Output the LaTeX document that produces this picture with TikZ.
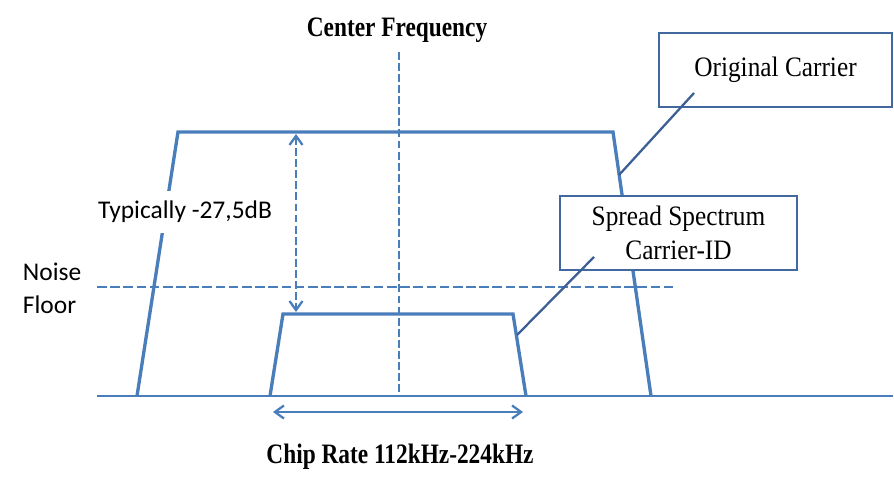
\documentclass[tikz,border=0pt]{standalone}
\usepackage{fontspec}
\setmainfont{Liberation Serif}
\newfontfamily\capfont[FakeStretch=0.9]{Liberation Serif}
\newfontfamily\headfont[FakeStretch=0.83]{Liberation Serif}
\newfontfamily\calfont{Carlito}
\usetikzlibrary{arrows.meta,calc,positioning}
\definecolor{specc}{RGB}{74,126,187}
\definecolor{boxc}{RGB}{65,105,160}
\definecolor{leadc}{RGB}{60,95,150}
\tikzset{
  spec/.style={specc,line width=1.9pt,line join=miter},
  axis/.style={specc,line width=1.3pt},
  cfline/.style={specc,line width=1.6pt,dash pattern=on 4.5pt off 1.8pt},
  nfline/.style={specc,line width=1.4pt,dash pattern=on 5.5pt off 2pt},
  barbs/.style={{Straight Barb[length=1.8mm,width=2.6mm]}-{Straight Barb[length=1.8mm,width=2.6mm]}},
  chiparr/.style={barbs,specc,line width=1.3pt},
  gaparr/.style={barbs,specc,line width=1.3pt,dash pattern=on 4.5pt off 1.8pt},
  callbox/.style={draw=boxc,fill=white,line width=1.2pt,font=\capfont\fontsize{16}{19.3}\selectfont,align=center,inner sep=0pt,minimum height=1.48cm},
  lead/.style={leadc,line width=1.3pt},
  head/.style={font=\headfont\bfseries\fontsize{16}{19}\selectfont,text=black},
  cal/.style={font=\calfont\fontsize{14.5}{18.8}\selectfont,fill=white,inner xsep=2pt,inner ysep=6pt},
}

\begin{document}
\begin{tikzpicture}[x=2cm,y=2cm]
\useasboundingbox (0,0) rectangle (8.94,4.76);
% ---- corners of the two spectra ----
\coordinate (oc-bl) at (1.37,0.80);
\coordinate (oc-tl) at (1.78,3.44);
\coordinate (oc-tr) at (6.13,3.44);
\coordinate (oc-br) at (6.51,0.80);
\coordinate (ss-bl) at (2.70,0.80);
\coordinate (ss-tl) at (2.83,1.62);
\coordinate (ss-tr) at (5.13,1.62);
\coordinate (ss-br) at (5.26,0.80);
\coordinate (ax-w) at (0.97,0.80);
\coordinate (ax-e) at (8.93,0.80);
\coordinate (cf-top) at (3.99,4.24);
\coordinate (nf-w) at (0.97,1.89);
\coordinate (nf-e) at (6.75,1.89);

% ---- axis, centre and noise floor ----
\draw[axis] (ax-w) -- (ax-e);
\draw[cfline] (cf-top) -- (cf-top |- ax-w);
\draw[nfline] (nf-w) -- (nf-e);

% ---- spectra ----
\draw[spec] (oc-bl) -- (oc-tl) -- (oc-tr) -- (oc-br);
\draw[spec] (ss-bl) -- (ss-tl) -- (ss-tr) -- (ss-br);

% ---- level gap and chip rate ----
\coordinate (gap-top) at (2.96,3.42);
\coordinate (gap-bot) at (2.96,1.64);
\draw[gaparr] (gap-top) -- (gap-bot);
\coordinate (chip-w) at (2.73,0.64);
\coordinate (chip-e) at (5.23,0.64);
\draw[chiparr] (chip-w) -- (chip-e);

% ---- labels ----
\node[head] (cf) at (3.97,4.46) {Center Frequency};
\node[head] (chip) at (4.00,0.19) {Chip Rate 112kHz-224kHz};
\node[cal] (gapl) at (1.85,2.64) {Typically -27,5dB};
\node[cal,align=left,anchor=west,inner ysep=2pt] (nf) at (0.19,1.88) {Noise\\Floor};

% ---- callouts ----
\node[callbox,minimum width=4.66cm] (orig) at (7.755,4.06) {Original Carrier};
\coordinate (orig-lead) at (6.94,3.83);
\coordinate (orig-tip) at (6.19,3.01);
\draw[lead] (orig-lead) -- (orig-tip);

\node[callbox,minimum width=4.74cm] (spread) at (6.785,2.43) {Spread Spectrum\\Carrier-ID};
\coordinate (spread-lead) at (5.94,2.19);
\coordinate (spread-tip) at (5.17,1.41);
\draw[lead] (spread-lead) -- (spread-tip);
\end{tikzpicture}
\end{document}
